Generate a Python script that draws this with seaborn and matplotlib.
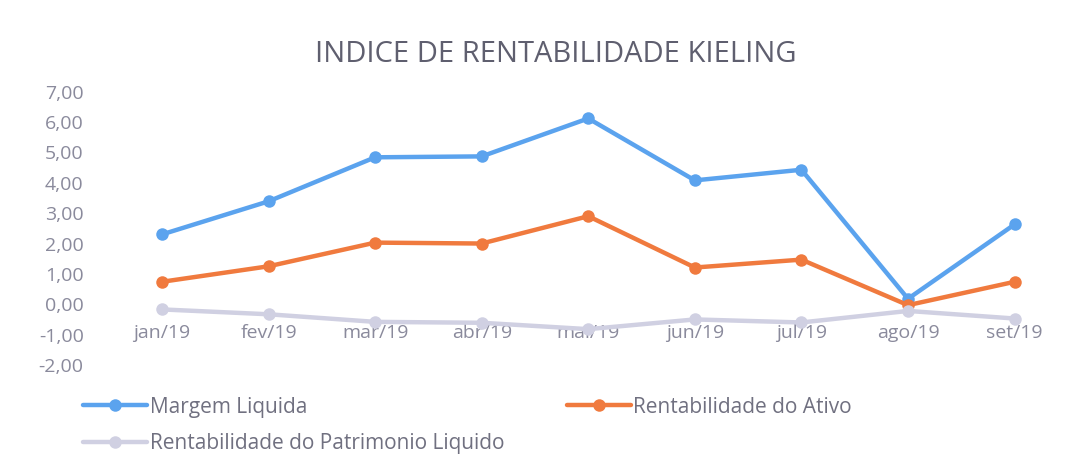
import numpy as np
import pandas as pd
import matplotlib
matplotlib.use("Agg")
import matplotlib.pyplot as plt
import seaborn as sns

# Data
meses = ["jan/19", "fev/19", "mar/19", "abr/19", "mai/19", "jun/19", "jul/19", "ago/19", "set/19"]
margem_liquida = [2.30, 3.39, 4.84, 4.87, 6.12, 4.08, 4.43, 0.18, 2.63]
rent_ativo = [0.74, 1.25, 2.03, 2.00, 2.90, 1.21, 1.47, -0.03, 0.74]
rent_patrimonio = [-0.17, -0.33, -0.58, -0.61, -0.82, -0.50, -0.60, -0.22, -0.47]

series = ["Margem Liquida", "Rentabilidade do Ativo", "Rentabilidade do Patrimonio Liquido"]
cores = ["#5BA3EE", "#F07A3E", "#D0D0E2"]
y_ticks = [-2, -1, 0, 1, 2, 3, 4, 5, 6, 7]

df = pd.DataFrame({
    "mes": meses * 3,
    "valor": margem_liquida + rent_ativo + rent_patrimonio,
    "serie": [series[0]] * 9 + [series[1]] * 9 + [series[2]] * 9,
})

sns.set_style("white")
plt.rcParams["font.family"] = ["Open Sans", "DejaVu Sans"]

fig = plt.figure(figsize=(10.9, 4.74), dpi=100)
ax = fig.add_axes([0.0997, 0.230, 0.880, 0.5765])

sns.lineplot(data=df, x="mes", y="valor", hue="serie", hue_order=series,
             palette=cores, marker="o", markersize=9, markeredgewidth=0,
             linewidth=3.2, sort=False, legend=True, ax=ax)

ax.set_xlim(-0.5, len(meses) - 0.5)
ax.set_ylim(-2, 7)
ax.set_yticks(y_ticks)
ax.set_yticklabels([f"{v:.2f}".replace(".", ",") for v in y_ticks])
ax.set_xlabel("")
ax.set_ylabel("")

# category labels sit at the zero line, like Excel
ax.spines["bottom"].set_position(("data", 0))
for s in ["top", "right", "left", "bottom"]:
    ax.spines[s].set_visible(False)
ax.tick_params(axis="x", length=0, pad=14, labelsize=14, labelcolor="#8a8a9c")
ax.tick_params(axis="y", length=0, pad=18, labelsize=14, labelcolor="#8a8a9c")

fig.suptitle("INDICE DE RENTABILIDADE KIELING", x=0.51, y=0.915,
             fontsize=21, color="#5f5f6f")

handles, labels = ax.get_legend_handles_labels()
ax.get_legend().remove()
ordem = [0, 2, 1]  # column-wise fill: Margem / Patrimonio in col 1, Ativo in col 2
fig.legend([handles[i] for i in ordem], [labels[i] for i in ordem],
           loc="upper left", bbox_to_anchor=(0.076, 0.163),
           ncol=2, frameon=False, fontsize=15, labelcolor="#707080",
           handlelength=3.1, handletextpad=0.1, columnspacing=3.0,
           labelspacing=0.75, borderaxespad=0, borderpad=0)

fig.savefig("out.png", dpi=100, facecolor="white")
